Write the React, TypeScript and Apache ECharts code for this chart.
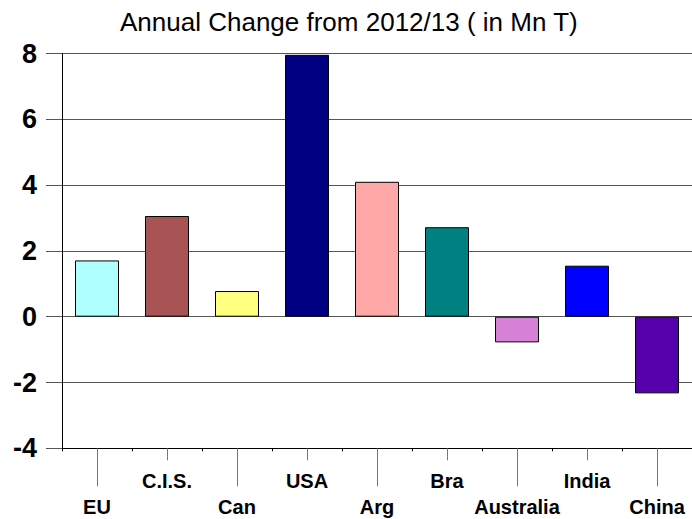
import React, { useEffect, useRef } from "react";
import * as echarts from "echarts";

const categories = ["EU", "C.I.S.", "Can", "USA", "Arg", "Bra", "Australia", "India", "China"];
const values = [1.71, 3.06, 0.78, 7.96, 4.1, 2.72, -0.78, 1.55, -2.33];
const barColors = ["#AFFFFF", "#A85454", "#FFFF80", "#000080", "#FFA8A8", "#008080", "#D680D6", "#0000FF", "#5500AA"];
const titleText = "Annual Change from 2012/13 ( in Mn T)";
const yMin = -4;
const yMax = 8;
const yStep = 2;

const FONT = "'Liberation Sans', Arial, sans-serif";

export default function App() {
  const ref = useRef<HTMLDivElement>(null);
  useEffect(() => {
    if (!ref.current) return;
    const chart = echarts.init(ref.current, undefined, { renderer: "svg" });
    const labelStyle = { fontFamily: FONT, fontSize: 20, fontWeight: "bold" as const, color: "#000" };
    chart.setOption({
      animation: false,
      backgroundColor: "#fff",
      title: {
        text: titleText,
        left: 115,
        top: 4,
        textStyle: { fontFamily: FONT, fontSize: 26, fontWeight: "normal", color: "#000" },
      },
      grid: { left: 62, top: 53.5, width: 633.6, height: 394.8, containLabel: false },
      xAxis: [
        {
          type: "category",
          data: categories,
          position: "bottom",
          axisLine: { show: true, onZero: false, lineStyle: { color: "#000", width: 1 } },
          axisTick: { show: true, alignWithLabel: true, interval: (i: number) => i % 2 === 0, length: 38, lineStyle: { color: "#777" } },
          axisLabel: { show: true, interval: (i: number) => i % 2 === 0, margin: 49, hideOverlap: false, ...labelStyle },
          splitLine: { show: false },
        },
        {
          type: "category",
          data: categories,
          position: "bottom",
          axisLine: { show: false, onZero: false },
          axisTick: { show: true, alignWithLabel: true, interval: (i: number) => i % 2 === 1, length: 12, lineStyle: { color: "#777" } },
          axisLabel: { show: true, interval: (i: number) => i % 2 === 1, margin: 23, hideOverlap: false, ...labelStyle },
          splitLine: { show: false },
        },
        {
          type: "category",
          data: categories,
          position: "bottom",
          axisLine: { show: false, onZero: false },
          axisTick: { show: true, alignWithLabel: false, interval: 0, length: 3, lineStyle: { color: "#000" } },
          axisLabel: { show: false },
          splitLine: { show: false },
        },
      ],
      yAxis: {
        type: "value",
        min: yMin,
        max: yMax,
        interval: yStep,
        axisLine: { show: true, lineStyle: { color: "#000", width: 1 } },
        axisTick: { show: true, length: 16, lineStyle: { color: "#555" } },
        axisLabel: { margin: 25, fontFamily: FONT, fontSize: 27, fontWeight: "bold", color: "#000" },
        splitLine: { show: true, lineStyle: { color: "#555", width: 1.2 } },
      },
      series: [
        {
          type: "bar",
          xAxisIndex: 0,
          barWidth: 44,
          data: values.map((v, i) => ({
            value: v,
            itemStyle: { color: barColors[i], borderColor: "#000", borderWidth: 1 },
          })),
        },
      ],
    });
    return () => chart.dispose();
  }, []);
  return <div ref={ref} style={{ position: "fixed", left: 0, top: 0, width: 692, height: 519 }} />;
}
